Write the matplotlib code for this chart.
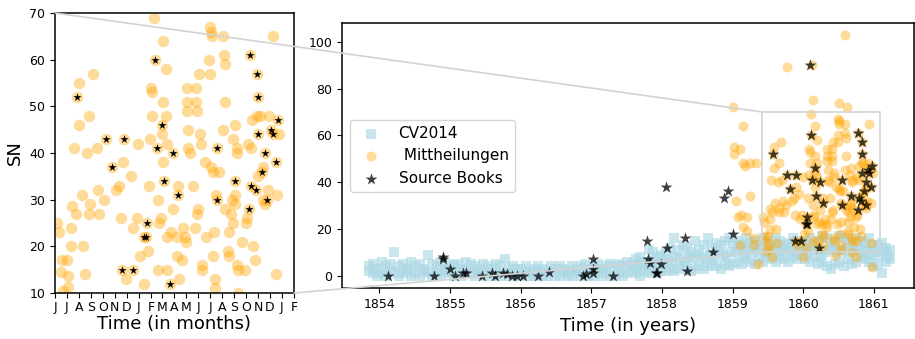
import datetime
import numpy as np
import matplotlib
matplotlib.use("Agg")
import matplotlib.pyplot as plt
from matplotlib.patches import Rectangle, ConnectionPatch

# CV2014 band (years, SN)
cv_x = [1853.85, 1853.91, 1853.97, 1854.03, 1854.09, 1854.15, 1854.21, 1854.27, 1854.33, 1854.39,
        1854.45, 1854.51, 1854.57, 1854.63, 1854.69, 1854.75, 1854.81, 1854.87, 1854.93, 1854.99,
        1855.05, 1855.11, 1855.17, 1855.23, 1855.29, 1855.35, 1855.41, 1855.47, 1855.53, 1855.59,
        1855.65, 1855.71, 1855.77, 1855.83, 1855.89, 1855.95,
        1856.01, 1856.07, 1856.13, 1856.19, 1856.25, 1856.31, 1856.37, 1856.43, 1856.49, 1856.55,
        1856.61, 1856.67, 1856.73, 1856.79, 1856.85, 1856.91, 1856.97,
        1857.03, 1857.09, 1857.15, 1857.21, 1857.27, 1857.33, 1857.39, 1857.45, 1857.51, 1857.57,
        1857.63, 1857.69, 1857.75, 1857.81, 1857.87, 1857.93, 1857.99,
        1858.05, 1858.11, 1858.17, 1858.23, 1858.29, 1858.35, 1858.41, 1858.47, 1858.53, 1858.59,
        1858.65, 1858.71, 1858.77, 1858.83, 1858.89, 1858.95,
        1859.01, 1859.07, 1859.13, 1859.19, 1859.25, 1859.31, 1859.37, 1859.43, 1859.49, 1859.55,
        1859.61, 1859.67, 1859.73, 1859.79, 1859.85, 1859.91, 1859.97,
        1860.03, 1860.09, 1860.15, 1860.21, 1860.27, 1860.33, 1860.39, 1860.45, 1860.51, 1860.57,
        1860.63, 1860.69, 1860.75, 1860.81, 1860.87, 1860.93, 1860.99,
        1861.05, 1861.11, 1861.17, 1861.23]
cv_lo = [2, 1, 0, 1, 0, 2, 1, 0, 1, 2, 0, 1, 0, 2, 1, 0, 1, 0, 2, 1,
         0, 1, 0, 2, 1, 0, 1, 0, 1, 0, 0, 1, 0, 1, 0, 0,
         0, 1, 0, 0, 1, 0, 0, 1, 0, 0, 1, 0, 0, 1, 0, 1, 0,
         0, 1, 0, 1, 0, 0, 1, 0, 1, 2, 1, 0, 2, 1, 2, 1, 2,
         2, 3, 2, 3, 4, 3, 2, 3, 4, 3, 4, 5, 4, 3, 5, 4,
         5, 6, 5, 7, 6, 5, 7, 6, 8, 7, 6, 8, 7, 6, 8, 7, 9,
         7, 6, 8, 5, 6, 4, 3, 5, 6, 4, 7, 5, 6, 8, 7, 6, 4,
         5, 1, 6, 7]
cv_hi = [4, 5, 3, 6, 4, 5, 10, 4, 5, 3, 6, 4, 5, 3, 9, 5, 4, 6, 3, 5,
         4, 5, 3, 6, 5, 4, 3, 5, 4, 3, 5, 4, 7, 3, 4, 3,
         3, 4, 2, 3, 4, 3, 2, 4, 3, 4, 3, 2, 4, 3, 4, 5, 3,
         4, 5, 3, 4, 5, 4, 5, 4, 6, 5, 7, 8, 6, 11, 10, 8, 9,
         10, 12, 16, 11, 13, 12, 10, 15, 11, 13, 16, 12, 14, 13, 15, 16,
         14, 15, 13, 16, 14, 15, 13, 16, 15, 14, 16, 15, 13, 14, 16, 15, 14,
         15, 16, 14, 15, 17, 16, 14, 15, 17, 16, 15, 14, 16, 15, 14, 16, 13,
         13, 14, 12, 11]
cv_mid_x = [1857.60, 1857.66, 1857.72, 1857.78, 1857.84, 1857.90, 1857.96,
            1858.02, 1858.08, 1858.14, 1858.20, 1858.26, 1858.32, 1858.38, 1858.44, 1858.50,
            1858.56, 1858.62, 1858.68, 1858.74, 1858.80, 1858.86, 1858.92, 1858.98,
            1859.04, 1859.10, 1859.16, 1859.22, 1859.28, 1859.34, 1859.40, 1859.46, 1859.52,
            1859.58, 1859.64, 1859.70, 1859.76, 1859.82, 1859.88, 1859.94,
            1860.00, 1860.06, 1860.12, 1860.18, 1860.24, 1860.30, 1860.36, 1860.42, 1860.48,
            1860.54, 1860.60, 1860.66, 1860.72, 1860.78, 1860.84, 1860.90, 1860.96,
            1861.02, 1861.08, 1861.14, 1861.20]
cv_mid = [4, 5, 4, 6, 5, 6, 5,
          6, 7, 6, 8, 7, 6, 8, 7, 9, 8, 7, 9, 8, 10, 9, 8, 10,
          10, 11, 9, 12, 10, 11, 12, 10, 11, 12, 10, 11, 12, 10, 11, 12,
          11, 10, 12, 11, 9, 10, 11, 12, 10, 11, 12, 10, 11, 12, 10, 11, 9,
          10, 9, 10, 8]

# Mittheilungen (years, SN)
mitt_x = [1859.426, 1859.444, 1859.461, 1859.496, 1859.456, 1859.507, 1859.507, 1859.472, 1859.526, 1859.531,
          1859.561, 1859.526, 1859.547, 1859.584, 1859.584, 1859.570, 1859.600, 1859.612, 1859.624, 1859.640,
          1859.654, 1859.677, 1859.659, 1859.654, 1859.705, 1859.717, 1859.722, 1859.757, 1859.770, 1859.810,
          1859.840, 1859.864, 1859.875, 1859.892, 1859.896, 1859.885, 1859.908, 1859.945, 1859.962, 1859.957,
          1859.985, 1859.997, 1860.008, 1860.036, 1860.050, 1860.036, 1860.066, 1860.071, 1860.055, 1860.085,
          1860.090, 1860.090, 1860.078, 1860.113, 1860.106, 1860.129, 1860.136, 1860.136, 1860.143, 1860.160,
          1860.164, 1860.167, 1860.171, 1860.171, 1860.178, 1860.155, 1860.190, 1860.190, 1860.195, 1860.195,
          1860.199, 1860.218, 1860.223, 1860.237, 1860.241, 1860.264, 1860.276, 1860.276, 1860.299, 1860.281,
          1860.264, 1860.306, 1860.323, 1860.330, 1860.334, 1860.334, 1860.334, 1860.346, 1860.346, 1860.358,
          1860.376, 1860.400, 1860.400, 1860.404, 1860.404, 1860.416, 1860.393, 1860.423, 1860.428, 1860.432,
          1860.439, 1860.439, 1860.463, 1860.470, 1860.493, 1860.497, 1860.502, 1860.497, 1860.504, 1860.509,
          1860.521, 1860.521, 1860.528, 1860.539, 1860.532, 1860.532, 1860.549, 1860.549, 1860.563, 1860.586,
          1860.595, 1860.602, 1860.602, 1860.586, 1860.602, 1860.626, 1860.633, 1860.633, 1860.644, 1860.654,
          1860.661, 1860.672, 1860.661, 1860.672, 1860.672, 1860.672, 1860.684, 1860.689, 1860.689, 1860.696,
          1860.696, 1860.719, 1860.742, 1860.749, 1860.758, 1860.765, 1860.777, 1860.782, 1860.782, 1860.772,
          1860.789, 1860.800, 1860.812, 1860.819, 1860.828, 1860.835, 1860.835, 1860.824, 1860.835, 1860.847,
          1860.858, 1860.870, 1860.870, 1860.882, 1860.882, 1860.894, 1860.905, 1860.912, 1860.922, 1860.935,
          1860.935, 1860.959, 1860.963, 1860.975, 1860.982, 1860.959,
          1859.00, 1859.02, 1859.02, 1859.15, 1859.10, 1859.15, 1859.17, 1859.25, 1859.33, 1859.05,
          1859.24, 1859.08, 1859.12, 1859.20, 1859.14, 1859.20, 1859.30, 1859.10, 1859.30, 1859.36,
          1859.77, 1860.12, 1860.13, 1860.50, 1860.62, 1860.59, 1860.97, 1859.55, 1860.00, 1860.45,
          1860.75]
mitt_sn = [25, 23, 17, 17, 14.6, 13.7, 11.3, 10.4, 24, 28.7,
           27, 20, 41, 55, 46, 52, 31, 20, 14, 40,
           48, 57, 29, 27, 41, 32, 27, 30, 43, 37,
           32, 33, 26, 38, 43, 15, 13, 35, 15, 24,
           26, 42, 18, 22, 22, 12, 19, 33, 25, 54,
           53, 48, 43, 60, 69, 41, 30, 15, 25, 46,
           44, 51, 64, 38, 34, 26, 48, 58, 42, 22,
           15, 12, 23, 28, 40, 18, 31, 33, 17, 13,
           22, 24, 22, 21, 54, 51, 49, 45, 41, 40,
           33, 54, 51, 49, 27, 28, 24, 57, 44, 42,
           16, 15, 38, 22, 60, 57, 37, 67, 66, 65,
           36, 18, 23, 31, 13, 11, 41, 30, 36, 65,
           61, 59, 51, 45, 28, 19, 18, 23, 27, 30,
           25, 46, 43, 34, 29, 31, 41, 40, 16, 15,
           10, 21, 15, 25, 26, 42, 61, 41, 33, 28,
           47, 20, 17, 32, 57, 52, 44, 48, 35, 48,
           36, 37, 30, 29, 40, 30, 32, 48, 45, 44,
           65, 38, 31, 47, 44, 14,
           72, 55, 52, 64, 54, 48, 47, 48, 48, 32,
           34, 25, 26, 25, 21, 19, 16, 13, 13, 5,
           89, 90, 75, 74, 72, 103, 3.5, 8, 8, 9,
           8]

# Source Books (years, SN)
src_x = [1854.12, 1854.77, 1854.90, 1854.90, 1855.00, 1855.07, 1855.18, 1855.23, 1855.45, 1855.59,
         1855.64, 1855.75, 1855.80, 1855.87, 1855.94, 1856.03, 1856.24, 1856.40, 1856.88, 1856.93,
         1857.02, 1857.02, 1857.02, 1857.31, 1857.79, 1857.80, 1857.83, 1857.91, 1857.93, 1857.98,
         1858.05, 1858.07, 1858.33, 1858.36, 1858.72, 1858.87, 1858.93, 1859.00, 1860.10,
         1859.570, 1859.770, 1859.810, 1859.896, 1859.885, 1859.962, 1860.036, 1860.050, 1860.055, 1860.113,
         1860.129, 1860.160, 1860.178, 1860.218, 1860.241, 1860.276, 1860.549, 1860.549, 1860.672, 1860.777,
         1860.782, 1860.772, 1860.819, 1860.828, 1860.835, 1860.835, 1860.858, 1860.882, 1860.894, 1860.922,
         1860.935, 1860.959, 1860.975]
src_sn = [0, 0, 8, 7, 3, 0, 1.2, 1.2, 0, 1,
          0, 1, 0.5, 0, 0, 0, 0, 1.7, 0, 0.5,
          7, 3, 1, 0, 15, 7, 5.3, 1.2, 1.2, 5,
          38, 12, 16, 2, 10, 33, 36, 18, 90,
          52, 43, 37, 43, 15, 15, 22, 22, 25, 60,
          41, 46, 34, 12, 40, 31, 41, 30, 34, 61,
          33, 28, 32, 57, 52, 44, 36, 40, 30, 45,
          44, 38, 47]

month_labels = ['J', 'J', 'A', 'S', 'O', 'N', 'D', 'J', 'F', 'M', 'A',
                'M', 'J', 'J', 'A', 'S', 'O', 'N', 'D', 'J', 'F']


def decimal_year(d):
    start = datetime.date(d.year, 1, 1)
    end = datetime.date(d.year + 1, 1, 1)
    return d.year + (d - start).days / (end - start).days


month_ticks = []
y, m = 1859, 6
for _ in month_labels:
    month_ticks.append(decimal_year(datetime.date(y, m, 1)))
    m += 1
    if m > 12:
        m, y = 1, y + 1

x0, x1 = month_ticks[0], month_ticks[-1]
y0, y1 = 10, 70

fig = plt.figure(figsize=(9.15, 3.39), dpi=100)
ax_left = fig.add_axes([0.0601, 0.1357, 0.2612, 0.826])
ax_main = fig.add_axes([0.3738, 0.149, 0.6246, 0.7823])

# main panel
ax_main.scatter(cv_x + cv_x + cv_mid_x, cv_lo + cv_hi + cv_mid, marker='s', s=44,
                color='lightblue', alpha=0.65, linewidths=0, label='CV2014')
ax_main.scatter(mitt_x, mitt_sn, marker='o', s=52, color='orange', alpha=0.4,
                linewidths=0, label=' Mittheilungen')
ax_main.scatter(src_x, src_sn, marker='*', s=80, color='black', alpha=0.75,
                linewidths=0, label='Source Books')
ax_main.set_xlim(1853.47, 1861.56)
ax_main.set_ylim(-5.5, 107.9)
ax_main.set_xticks(range(1854, 1862))
ax_main.set_yticks(range(0, 101, 20))
ax_main.tick_params(labelsize=9)
ax_main.set_xlabel('Time (in years)', fontsize=13)
ax_main.legend(loc='center left', fontsize=11)
ax_main.add_patch(Rectangle((x0, y0), x1 - x0, y1 - y0, fill=False,
                            edgecolor='lightgray', lw=1.2, zorder=5))

# zoomed panel
ax_left.scatter(mitt_x, mitt_sn, marker='o', s=68, color='orange', alpha=0.4, linewidths=0)
ax_left.scatter(src_x, src_sn, marker='*', s=38, color='black', linewidths=0)
ax_left.set_xlim(x0, x1)
ax_left.set_ylim(y0, y1)
ax_left.set_xticks(month_ticks)
ax_left.set_xticklabels(month_labels)
ax_left.set_yticks(range(10, 71, 10))
ax_left.tick_params(labelsize=9)
ax_left.tick_params(axis='x', pad=2)
ax_left.set_xlabel('Time (in months)', fontsize=13, labelpad=1)
ax_left.set_ylabel('SN', fontsize=13)

for ax in (ax_left, ax_main):
    for sp in ax.spines.values():
        sp.set_linewidth(1.1)

# lines joining the zoomed panel to the box
for xa, ya in [(x0, y1), (x1, y0)]:
    con = ConnectionPatch(xyA=(xa, ya), coordsA=ax_left.transData,
                          xyB=(x0, ya), coordsB=ax_main.transData,
                          color='lightgray', lw=1.2, zorder=10)
    fig.add_artist(con)

fig.savefig('out.png', dpi=100)
